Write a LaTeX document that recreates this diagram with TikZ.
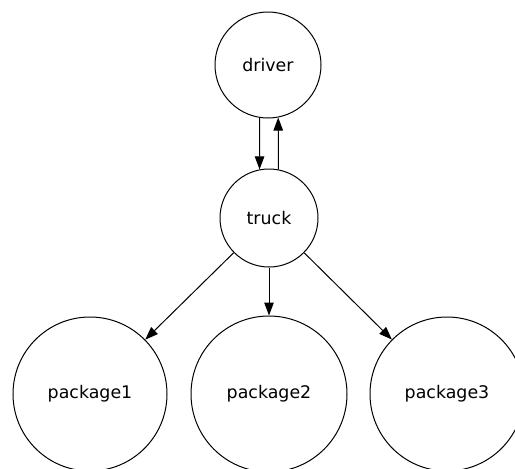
\documentclass[tikz,border=0pt]{standalone}
\usepackage{fontspec}
\setmainfont{DejaVu Sans}
\usetikzlibrary{arrows.meta}
\begin{document}
\begin{tikzpicture}[x=1pt,y=-1pt,
  state/.style={circle,draw,line width=1pt,inner sep=0pt,font=\fontsize{17.4}{20}\selectfont},
  link/.style={line width=1pt,-{Triangle[length=13pt,width=9.5pt]}}]
  \useasboundingbox (0,0) rectangle (515,469);
  \begin{scope}
  \clip (0,0) rectangle (515,469);
  \node[state,minimum size=106pt] (driver) at (268,65) {driver};
  \node[state,minimum size=98pt] (truck) at (269,218) {truck};
  \node[state,minimum size=154pt] (p1) at (90,394) {package1};
  \node[state,minimum size=156pt] (p2) at (269,394) {package2};
  \node[state,minimum size=154pt] (p3) at (447,394) {package3};
  \draw[link] (driver.-99) -- (truck.101);
  \draw[link] (truck.79) -- (driver.-79);
  \draw[link] (truck) -- (p1);
  \draw[link] (truck) -- (p2);
  \draw[link] (truck) -- (p3);
  \end{scope}
\end{tikzpicture}
\end{document}
